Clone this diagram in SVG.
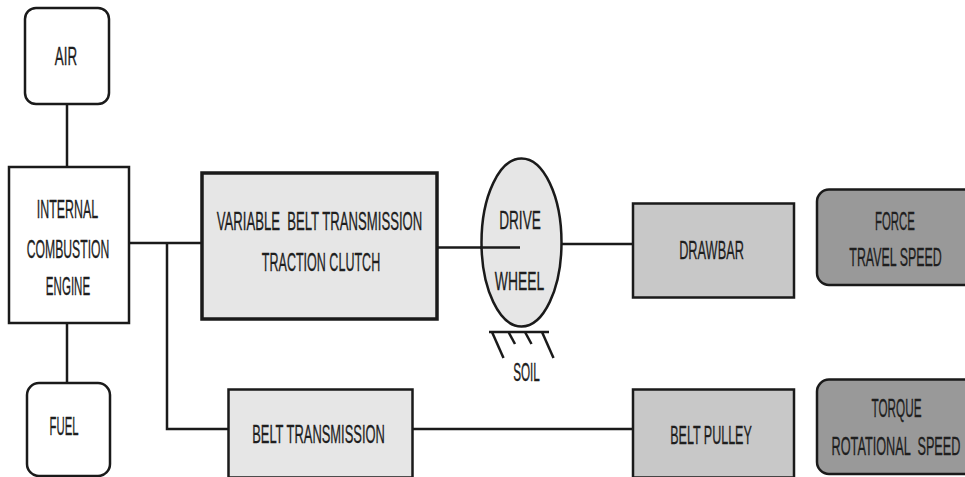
<svg xmlns="http://www.w3.org/2000/svg" width="965" height="477" viewBox="0 0 965 477">
<style>
.b{stroke:#1a1a1a;stroke-width:2.5}
.w{fill:#ffffff}
.l{fill:#e6e6e6}
.m{fill:#c8c8c8}
.d{fill:#999999}
.t{font-family:"Liberation Sans Narrow","Liberation Sans",Arial,sans-serif;font-size:26px;fill:#1e1e1e;stroke:#1e1e1e;stroke-width:0.35;text-anchor:middle}
.c{fill:none;stroke:#1a1a1a;stroke-width:2.5}
</style>
<g id="connectors">
<line class="c" x1="67" y1="104" x2="67" y2="167"/>
<line class="c" x1="67" y1="323" x2="67" y2="383"/>
<line class="c" x1="129" y1="243" x2="202" y2="243" stroke-width="3"/>
<polyline class="c" points="167,243 167,429 228,429" stroke-width="3"/>
<line class="c" x1="412" y1="429" x2="633" y2="429" stroke-width="3"/>
<line class="c" x1="562" y1="244" x2="633" y2="244" stroke-width="3"/>
</g>
<g id="air">
<rect class="b w" x="25" y="8" width="84" height="96" rx="11"/>
<text class="t" transform="matrix(0.628 0 0 1 66 65)" textLength="35.5" lengthAdjust="spacingAndGlyphs">AIR</text>
</g>
<g id="engine">
<rect class="b w" x="9" y="167" width="120" height="156"/>
<text class="t" transform="matrix(0.583 0 0 1 67.5 218)" textLength="105.4" lengthAdjust="spacingAndGlyphs">INTERNAL</text>
<text class="t" transform="matrix(0.572 0 0 1 68 258)" textLength="144.5" lengthAdjust="spacingAndGlyphs">COMBUSTION</text>
<text class="t" transform="matrix(0.542 0 0 1 68 295)" textLength="81.7" lengthAdjust="spacingAndGlyphs">ENGINE</text>
</g>
<g id="fuel">
<rect class="b w" x="27" y="383" width="83" height="93" rx="12"/>
<text class="t" transform="matrix(0.532 0 0 1 64 435)" textLength="54.5" lengthAdjust="spacingAndGlyphs">FUEL</text>
</g>
<g id="variable">
<rect class="l" x="202" y="173" width="235" height="146" stroke="#1a1a1a" stroke-width="3.5"/>
<text class="t" transform="matrix(0.609 0 0 1 319.5 230)" textLength="337.6" lengthAdjust="spacingAndGlyphs" xml:space="preserve">VARIABLE  BELT TRANSMISSION</text>
<text class="t" transform="matrix(0.588 0 0 1 321 271)" textLength="201.3" lengthAdjust="spacingAndGlyphs">TRACTION CLUTCH</text>
</g>
<g id="wheel">
<line class="c" x1="437" y1="247.5" x2="482" y2="247.5" stroke-width="3"/>
<ellipse class="b l" cx="521.5" cy="242.5" rx="40" ry="84"/>
<line class="c" x1="480" y1="247.5" x2="520" y2="247.5" stroke-width="3"/>
<text class="t" transform="matrix(0.64 0 0 1 520 229)" textLength="65.2" lengthAdjust="spacingAndGlyphs">DRIVE</text>
<text class="t" transform="matrix(0.65 0 0 1 519.5 290)" textLength="75.8" lengthAdjust="spacingAndGlyphs">WHEEL</text>
</g>
<g id="soil">
<line class="c" x1="489" y1="332" x2="549" y2="332" stroke-width="3"/>
<line class="c" x1="492" y1="332" x2="503.5" y2="358"/>
<line class="c" x1="508.5" y1="332" x2="515" y2="344"/>
<line class="c" x1="525" y1="332" x2="531.5" y2="344"/>
<line class="c" x1="542" y1="332" x2="553.5" y2="358"/>
<text class="t" transform="matrix(0.55 0 0 1 526.5 381)" textLength="48.6" lengthAdjust="spacingAndGlyphs">SOIL</text>
</g>
<g id="drawbar">
<rect class="b m" x="633" y="203.5" width="161" height="94"/>
<text class="t" transform="matrix(0.594 0 0 1 711.5 259)" textLength="109" lengthAdjust="spacingAndGlyphs">DRAWBAR</text>
</g>
<g id="force">
<rect class="b d" x="817" y="189.5" width="170" height="95.5" rx="12"/>
<text class="t" transform="matrix(0.536 0 0 1 895 230)" textLength="74.6" lengthAdjust="spacingAndGlyphs">FORCE</text>
<text class="t" transform="matrix(0.573 0 0 1 895.5 266)" textLength="161.1" lengthAdjust="spacingAndGlyphs">TRAVEL SPEED</text>
</g>
<g id="belt-transmission">
<rect class="b l" x="228.5" y="389.5" width="184" height="88"/>
<text class="t" transform="matrix(0.599 0 0 1 318.5 443)" textLength="221.5" lengthAdjust="spacingAndGlyphs">BELT TRANSMISSION</text>
</g>
<g id="belt-pulley">
<rect class="b m" x="633" y="389.5" width="161" height="88"/>
<text class="t" transform="matrix(0.579 0 0 1 711 444)" textLength="141" lengthAdjust="spacingAndGlyphs">BELT PULLEY</text>
</g>
<g id="torque">
<rect class="b d" x="817" y="379.5" width="170" height="94.5" rx="12"/>
<text class="t" transform="matrix(0.548 0 0 1 896.5 417)" textLength="91.2" lengthAdjust="spacingAndGlyphs">TORQUE</text>
<text class="t" transform="matrix(0.585 0 0 1 896 455)" textLength="220.4" lengthAdjust="spacingAndGlyphs" xml:space="preserve">ROTATIONAL  SPEED</text>
</g>
</svg>
